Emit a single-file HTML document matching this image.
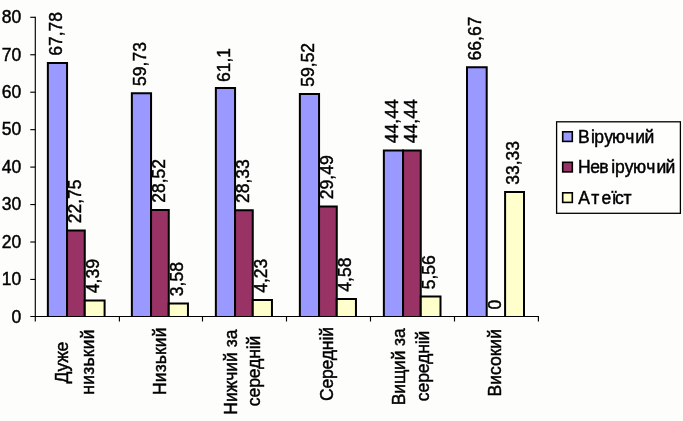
<!DOCTYPE html><html><head><meta charset="utf-8"><title>Chart</title><style>html,body{margin:0;padding:0;background:#fdfefc}svg{display:block}text{stroke:#000;stroke-width:0.45px;font-family:"Liberation Sans",Arial,sans-serif;font-size:17.5px;fill:#000}</style></head><body>
<svg width="683" height="421" viewBox="0 0 683 421">
<rect width="683" height="421" fill="#fdfefc"/>
<rect x="47.86" y="63.06" width="19.20" height="253.44" fill="#9999ff"/>
<path d="M47.86 317.07V63.06H67.06V317.07" fill="none" stroke="#000" stroke-width="2.0" stroke-linejoin="miter"/>
<text transform="translate(55.76,55.76) rotate(-90)" x="0" y="0" dy="0.36em">67,78</text>
<rect x="67.06" y="230.60" width="17.70" height="85.90" fill="#993366"/>
<path d="M67.06 317.07V230.60H84.76V317.07" fill="none" stroke="#000" stroke-width="2.0" stroke-linejoin="miter"/>
<text transform="translate(74.21,223.30) rotate(-90)" x="0" y="0" dy="0.36em">22,75</text>
<rect x="84.76" y="300.46" width="19.84" height="16.04" fill="#ffffcc"/>
<path d="M84.76 317.07V300.46H104.60V317.07" fill="none" stroke="#000" stroke-width="2.0" stroke-linejoin="miter"/>
<text transform="translate(92.98,293.16) rotate(-90)" x="0" y="0" dy="0.36em">4,39</text>
<rect x="131.86" y="93.21" width="19.20" height="223.29" fill="#9999ff"/>
<path d="M131.86 317.07V93.21H151.06V317.07" fill="none" stroke="#000" stroke-width="2.0" stroke-linejoin="miter"/>
<text transform="translate(139.76,85.91) rotate(-90)" x="0" y="0" dy="0.36em">59,73</text>
<rect x="151.06" y="210.09" width="17.70" height="106.41" fill="#993366"/>
<path d="M151.06 317.07V210.09H168.76V317.07" fill="none" stroke="#000" stroke-width="2.0" stroke-linejoin="miter"/>
<text transform="translate(158.21,202.79) rotate(-90)" x="0" y="0" dy="0.36em">28,52</text>
<rect x="168.76" y="303.49" width="19.20" height="13.01" fill="#ffffcc"/>
<path d="M168.76 317.07V303.49H187.96V317.07" fill="none" stroke="#000" stroke-width="2.0" stroke-linejoin="miter"/>
<text transform="translate(176.66,296.19) rotate(-90)" x="0" y="0" dy="0.36em">3,58</text>
<rect x="215.86" y="88.08" width="19.20" height="228.42" fill="#9999ff"/>
<path d="M215.86 317.07V88.08H235.06V317.07" fill="none" stroke="#000" stroke-width="2.0" stroke-linejoin="miter"/>
<text transform="translate(223.76,82.08) rotate(-90)" x="0" y="0" dy="0.36em">61,1</text>
<rect x="235.06" y="210.30" width="17.70" height="106.20" fill="#993366"/>
<path d="M235.06 317.07V210.30H252.76V317.07" fill="none" stroke="#000" stroke-width="2.0" stroke-linejoin="miter"/>
<text transform="translate(242.21,203.00) rotate(-90)" x="0" y="0" dy="0.36em">28,33</text>
<rect x="252.76" y="300.06" width="19.20" height="16.44" fill="#ffffcc"/>
<path d="M252.76 317.07V300.06H271.96V317.07" fill="none" stroke="#000" stroke-width="2.0" stroke-linejoin="miter"/>
<text transform="translate(260.66,292.76) rotate(-90)" x="0" y="0" dy="0.36em">4,23</text>
<rect x="299.86" y="94.00" width="19.20" height="222.50" fill="#9999ff"/>
<path d="M299.86 317.07V94.00H319.06V317.07" fill="none" stroke="#000" stroke-width="2.0" stroke-linejoin="miter"/>
<text transform="translate(307.76,86.70) rotate(-90)" x="0" y="0" dy="0.36em">59,52</text>
<rect x="319.06" y="206.46" width="17.70" height="110.04" fill="#993366"/>
<path d="M319.06 317.07V206.46H336.76V317.07" fill="none" stroke="#000" stroke-width="2.0" stroke-linejoin="miter"/>
<text transform="translate(326.21,199.16) rotate(-90)" x="0" y="0" dy="0.36em">29,49</text>
<rect x="336.76" y="298.95" width="19.20" height="17.55" fill="#ffffcc"/>
<path d="M336.76 317.07V298.95H355.96V317.07" fill="none" stroke="#000" stroke-width="2.0" stroke-linejoin="miter"/>
<text transform="translate(344.66,291.65) rotate(-90)" x="0" y="0" dy="0.36em">4,58</text>
<rect x="383.86" y="150.47" width="19.20" height="166.03" fill="#9999ff"/>
<path d="M383.86 317.07V150.47H403.06V317.07" fill="none" stroke="#000" stroke-width="2.0" stroke-linejoin="miter"/>
<text transform="translate(391.76,143.17) rotate(-90)" x="0" y="0" dy="0.36em">44,44</text>
<rect x="403.06" y="150.47" width="17.70" height="166.03" fill="#993366"/>
<path d="M403.06 317.07V150.47H420.76V317.07" fill="none" stroke="#000" stroke-width="2.0" stroke-linejoin="miter"/>
<text transform="translate(410.21,143.17) rotate(-90)" x="0" y="0" dy="0.36em">44,44</text>
<rect x="420.76" y="296.58" width="19.74" height="19.92" fill="#ffffcc"/>
<path d="M420.76 317.07V296.58H440.50V317.07" fill="none" stroke="#000" stroke-width="2.0" stroke-linejoin="miter"/>
<text transform="translate(428.93,289.28) rotate(-90)" x="0" y="0" dy="0.36em">5,56</text>
<rect x="467.00" y="67.22" width="19.70" height="249.28" fill="#9999ff"/>
<path d="M467.00 317.07V67.22H486.70V317.07" fill="none" stroke="#000" stroke-width="2.0" stroke-linejoin="miter"/>
<text transform="translate(475.15,60.42) rotate(-90)" x="0" y="0" dy="0.36em">66,67</text>
<text transform="translate(494.20,309.60) rotate(-90)" x="0" y="0" dy="0.36em">0</text>
<rect x="505.10" y="192.08" width="18.90" height="124.42" fill="#ffffcc"/>
<path d="M505.10 317.07V192.08H524.00V317.07" fill="none" stroke="#000" stroke-width="2.0" stroke-linejoin="miter"/>
<text transform="translate(512.85,184.78) rotate(-90)" x="0" y="0" dy="0.36em">33,33</text>
<g stroke="#000" stroke-width="1.15" fill="none">
<line x1="35.30" y1="16.73" x2="35.30" y2="321.50"/>
<line x1="30.30" y1="316.50" x2="538.98" y2="316.50"/>
<line x1="30.30" y1="279.45" x2="35.30" y2="279.45"/>
<line x1="30.30" y1="242.00" x2="35.30" y2="242.00"/>
<line x1="30.30" y1="204.55" x2="35.30" y2="204.55"/>
<line x1="30.30" y1="167.10" x2="35.30" y2="167.10"/>
<line x1="30.30" y1="129.65" x2="35.30" y2="129.65"/>
<line x1="30.30" y1="92.20" x2="35.30" y2="92.20"/>
<line x1="30.30" y1="54.75" x2="35.30" y2="54.75"/>
<line x1="30.30" y1="17.30" x2="35.30" y2="17.30"/>
<line x1="119.40" y1="316.50" x2="119.40" y2="321.50"/>
<line x1="202.50" y1="316.50" x2="202.50" y2="321.50"/>
<line x1="286.50" y1="316.50" x2="286.50" y2="321.50"/>
<line x1="370.50" y1="316.50" x2="370.50" y2="321.50"/>
<line x1="454.50" y1="316.50" x2="454.50" y2="321.50"/>
<line x1="538.40" y1="316.50" x2="538.40" y2="321.50"/>
</g>
<text x="21.20" y="316.40" text-anchor="end" dy="0.36em">0</text>
<text x="21.20" y="278.95" text-anchor="end" dy="0.36em">10</text>
<text x="21.20" y="241.50" text-anchor="end" dy="0.36em">20</text>
<text x="21.20" y="204.05" text-anchor="end" dy="0.36em">30</text>
<text x="21.20" y="166.60" text-anchor="end" dy="0.36em">40</text>
<text x="21.20" y="129.15" text-anchor="end" dy="0.36em">50</text>
<text x="21.20" y="91.70" text-anchor="end" dy="0.36em">60</text>
<text x="21.20" y="54.25" text-anchor="end" dy="0.36em">70</text>
<text x="21.20" y="16.80" text-anchor="end" dy="0.36em">80</text>
<text transform="translate(62.15,362.60) rotate(-90)" text-anchor="middle" dy="0.36em" textLength="41.80" lengthAdjust="spacing">Дуже</text>
<text transform="translate(87.45,362.10) rotate(-90)" text-anchor="middle" dy="0.36em" textLength="65.20" lengthAdjust="spacing">низький</text>
<text transform="translate(159.35,361.20) rotate(-90)" text-anchor="middle" dy="0.36em" textLength="67.40" lengthAdjust="spacing">Низький</text>
<text transform="translate(230.30,372.10) rotate(-90)" text-anchor="middle" dy="0.36em" textLength="85.20" lengthAdjust="spacing">Нижчий за</text>
<text transform="translate(253.50,370.90) rotate(-90)" text-anchor="middle" dy="0.36em" textLength="70.50" lengthAdjust="spacing">середній</text>
<text transform="translate(326.60,364.10) rotate(-90)" text-anchor="middle" dy="0.36em" textLength="74.05" lengthAdjust="spacing">Середній</text>
<text transform="translate(398.30,366.80) rotate(-90)" text-anchor="middle" dy="0.36em" textLength="76.90" lengthAdjust="spacing">Вищий за</text>
<text transform="translate(422.45,365.90) rotate(-90)" text-anchor="middle" dy="0.36em" textLength="70.50" lengthAdjust="spacing">середній</text>
<text transform="translate(494.40,362.80) rotate(-90)" text-anchor="middle" dy="0.36em" textLength="67.50" lengthAdjust="spacing">Високий</text>
<rect x="556.6" y="121.8" width="123.8" height="91.5" fill="#fefefd" stroke="#000" stroke-width="1.3"/>
<rect x="562.7" y="131.80" width="9.6" height="9.6" fill="#9999ff" stroke="#000" stroke-width="1.6"/>
<text x="578.00 590.90 594.20 604.20 612.10 625.20 635.30 644.40" y="142.50">Віруючий</text>
<rect x="562.7" y="162.30" width="9.6" height="9.6" fill="#993366" stroke="#000" stroke-width="1.6"/>
<text x="578.00 590.20 599.30 611.30 614.95 624.70 633.00 646.30 656.40 665.40" y="172.80">Невіруючий</text>
<rect x="562.7" y="192.80" width="9.6" height="9.6" fill="#ffffcc" stroke="#000" stroke-width="1.6"/>
<text x="578.30 591.20 601.40 611.80 614.90 623.50" y="203.60">Атеїст</text>
</svg></body></html>
